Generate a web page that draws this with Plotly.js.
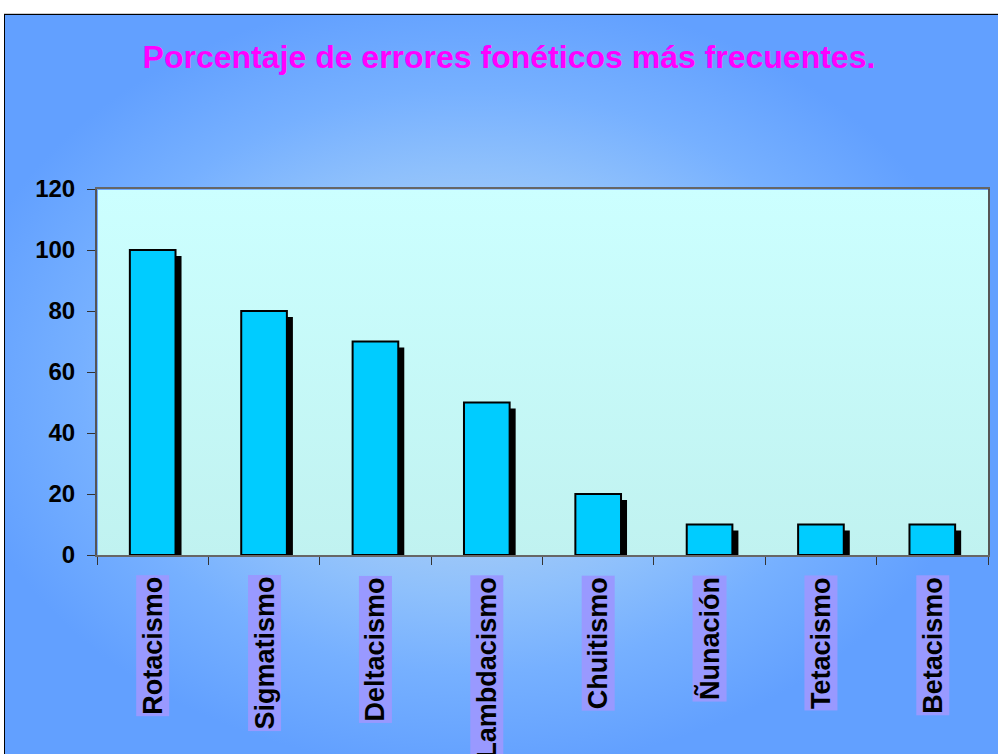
<!DOCTYPE html>
<html>
<head>
<meta charset="utf-8">
<script src="https://cdn.plot.ly/plotly-3.0.1.min.js"></script>
<style>
  html, body { margin: 0; padding: 0; background: #ffffff; width: 998px; height: 754px; overflow: hidden; }
  #frame {
    position: absolute; left: 4px; top: 14px; width: 1000px; height: 745px;
    border-top: 1.5px solid #000; border-left: 1.5px solid #000;
    box-shadow: 0 -1px 0 #cccccc;
    background:
      linear-gradient(#CCFFFF, #C0F2F0) 93px 175px / 891px 366px no-repeat,
      radial-gradient(ellipse 520px 390px at 466px 366px, #C2DCF2 0%, #A6CCF6 35%, #8EC0FC 55%, #76B0FF 75%, #62A0FF 100%);
  }
  #chart { position: absolute; left: 0; top: 0; width: 998px; height: 754px; }
</style>
</head>
<body>
<div id="frame"></div>
<div id="chart"></div>
<script>
const categories = ["Rotacismo", "Sigmatismo", "Deltacismo", "Lambdacismo", "Chuitismo", "Ñunación", "Tetacismo", "Betacismo"];
const values = [100, 80, 70, 50, 20, 10, 10, 10];
const yTicks = [0, 20, 40, 60, 80, 100, 120];
const chartTitle = "Porcentaje de errores fonéticos más frecuentes.";

const barWidth = 0.41;
const shadowDx = 0.054;   // shadow shift in category units
const shadowDy = 2;       // shadow shift in value units

const shadow = {
  type: "bar", x: categories, y: values.map(v => v - shadowDy),
  width: barWidth, offset: -barWidth / 2 + shadowDx,
  marker: { color: "#000000", line: { width: 0 } },
  hoverinfo: "skip", showlegend: false
};
const bars = {
  type: "bar", x: categories, y: values,
  width: barWidth, offset: -barWidth / 2,
  marker: { color: "#00CCFF", line: { color: "#000000", width: 2 } },
  showlegend: false
};

const annotations = categories.map(c => ({
  x: c, xref: "x", y: 0, yref: "paper", yshift: -20,
  yanchor: "top", xanchor: "center",
  text: "<b>" + c + "</b>", textangle: -90, showarrow: false,
  bgcolor: "#9999FF", borderpad: 1,
  font: { family: "Liberation Sans, Arial, sans-serif", size: 27, color: "#000000" }
}));

const layout = {
  width: 998, height: 754,
  margin: { l: 97, r: 10, t: 189, b: 199, pad: 0 },
  paper_bgcolor: "rgba(0,0,0,0)",
  plot_bgcolor: "rgba(0,0,0,0)",
  barmode: "overlay",
  title: {
    text: "<b>" + chartTitle + "</b>",
    x: 0.51, xanchor: "center", y: 0.925, yanchor: "middle",
    font: { family: "Liberation Sans, Arial, sans-serif", size: 32, color: "#FF00FF" }
  },
  xaxis: {
    type: "category", tickson: "boundaries", ticks: "outside", ticklen: 8, tickcolor: "#333",
    showticklabels: false, showgrid: false, zeroline: false,
    showline: true, linecolor: "#666", linewidth: 2, mirror: true,
    range: [-0.5, categories.length - 0.5]
  },
  yaxis: {
    range: [0, 120], tickvals: yTicks, ticktext: yTicks.map(String),
    ticks: "outside", ticklen: 8, tickcolor: "#333", ticklabelstandoff: 7,
    showgrid: false, zeroline: false,
    showline: true, linecolor: "#555", linewidth: 2, mirror: true,
    tickfont: { family: "Liberation Sans, Arial, sans-serif", size: 24, color: "#000", weight: "bold" }
  },
  annotations: annotations
};

Plotly.newPlot("chart", [shadow, bars], layout, { displayModeBar: false, staticPlot: true });
</script>
</body>
</html>
